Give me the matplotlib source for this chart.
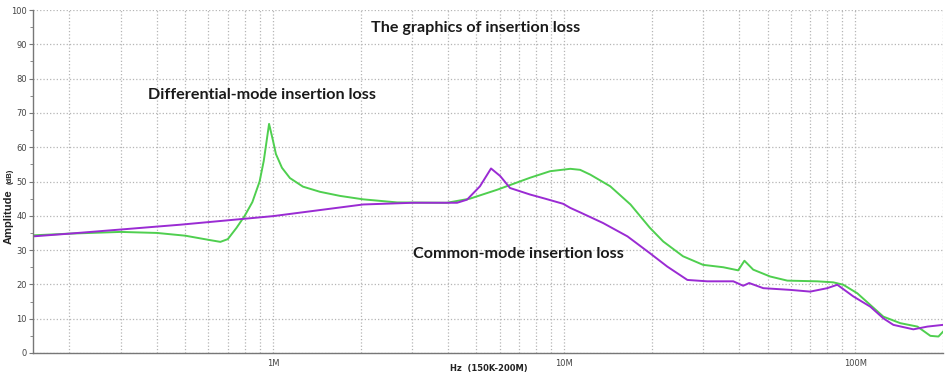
import matplotlib
matplotlib.use("Agg")
import matplotlib.pyplot as plt
from matplotlib.ticker import LogLocator, FixedLocator, FixedFormatter, MultipleLocator, NullFormatter

# frequencies in MHz, amplitude in dB
diff_freq = [0.15, 0.2, 0.3, 0.4, 0.5, 0.6, 0.66, 0.7, 0.75, 0.8, 0.85, 0.9, 0.93, 0.97,
             1.0, 1.024, 1.074, 1.144, 1.268, 1.45, 1.70, 2.04, 2.67, 3.96, 4.75, 5.89,
             7.64, 8.95, 10.5, 11.35, 12.3, 14.4, 16.9, 19.7, 21.9, 25.6, 30.0, 35.2,
             39.6, 41.6, 44.6, 51.0, 58.4, 74.0, 84.0, 90.9, 101.6, 112.6, 124.8, 142.7,
             163.4, 181.0, 192.9, 200.0]
diff_db = [34.3, 34.8, 35.3, 35.0, 34.2, 33.0, 32.4, 33.2, 36.5, 40.0, 44.0, 50.0, 56.0, 66.8,
           62.0, 58.0, 54.0, 51.0, 48.5, 47.0, 45.8, 44.8, 43.9, 43.8, 45.0, 47.6,
           51.1, 53.0, 53.7, 53.4, 52.0, 48.6, 43.3, 36.5, 32.5, 28.2, 25.7, 25.0,
           24.1, 26.9, 24.3, 22.3, 21.1, 20.9, 20.6, 19.9, 17.4, 14.0, 10.6, 8.7,
           7.7, 5.0, 4.8, 6.2]

cm_freq = [0.15, 0.2, 0.3, 0.48, 1.0, 2.04, 3.03, 4.29, 4.64, 5.14, 5.61, 6.03, 6.52, 7.64,
           8.60, 9.92, 10.5, 11.35, 13.6, 16.5, 19.7, 22.6, 26.5, 31.0, 38.1, 41.2, 43.2,
           48.3, 59.8, 70.0, 80.1, 86.7, 98.4, 112.6, 124.8, 135.1, 158.2, 176.8, 200.0]
cm_db = [34.0, 34.8, 36.0, 37.4, 39.9, 43.3, 43.8, 43.8, 44.7, 48.6, 53.8, 51.6, 48.1, 46.2,
         45.0, 43.5, 42.3, 41.0, 37.9, 34.0, 29.1, 25.2, 21.3, 20.9, 20.9, 19.6, 20.4,
         18.9, 18.4, 17.9, 18.9, 19.9, 16.5, 13.5, 10.1, 8.2, 6.9, 7.7, 8.2]

x_ticks = [1, 10, 100]
x_labels = ["1M", "10M", "100M"]

fig = plt.figure(figsize=(9.5, 3.8), dpi=100)
ax = fig.add_axes([33 / 950, 27 / 380, 910 / 950, 343 / 380])

ax.plot(diff_freq, diff_db, color="#4fcf4f", lw=1.4)
ax.plot(cm_freq, cm_db, color="#9a2bd3", lw=1.4)

ax.set_xscale("log")
ax.set_xlim(0.15, 200)
ax.set_ylim(0, 100)

ax.xaxis.set_major_locator(FixedLocator(x_ticks))
ax.xaxis.set_major_formatter(FixedFormatter(x_labels))
ax.xaxis.set_minor_locator(LogLocator(base=10, subs=range(2, 10), numticks=20))
ax.xaxis.set_minor_formatter(NullFormatter())
ax.yaxis.set_major_locator(MultipleLocator(10))
ax.yaxis.set_minor_locator(MultipleLocator(5))

ax.grid(True, which="both", axis="x", color="#b5b5b5", ls=":", lw=0.9)
ax.grid(True, which="major", axis="y", color="#b5b5b5", ls=":", lw=0.9)
for s in ["top", "right"]:
    ax.spines[s].set_visible(False)
for s in ["left", "bottom"]:
    ax.spines[s].set_color("#777777")
    ax.spines[s].set_linewidth(1.0)

ax.tick_params(axis="x", which="both", length=0, labelsize=6, labelcolor="#444444", pad=4)
ax.tick_params(axis="y", which="major", length=3, labelsize=6, labelcolor="#444444",
               color="#777777", pad=1.5)
ax.tick_params(axis="y", which="minor", length=2, color="#777777")

fig.text(489 / 950, 1 - 368 / 380, "Hz  (150K-200M)", ha="center", va="center",
         fontsize=6, fontweight="bold", color="#222222")
fig.text(9 / 950, 1 - 217 / 380, "Amplitude", rotation=90, ha="center", va="center",
         fontsize=8, fontweight="bold", color="#222222", family="Liberation Sans")
fig.text(10 / 950, 1 - 176 / 380, "(dB)", rotation=90, ha="center", va="center",
         fontsize=5.5, fontweight="bold", color="#222222", family="Liberation Sans")

tfont = dict(fontsize=11.6, fontweight="bold", color="#1a1a1a", family="Lato")
fig.text(476 / 950, 1 - 28 / 380, "The graphics of insertion loss", ha="center", va="center", **tfont)
fig.text(148 / 950, 1 - 95 / 380, "Differential-mode insertion loss", ha="left", va="center", **tfont)
fig.text(413 / 950, 1 - 254 / 380, "Common-mode insertion loss", ha="left", va="center", **tfont)

fig.savefig("out.png", dpi=100)
